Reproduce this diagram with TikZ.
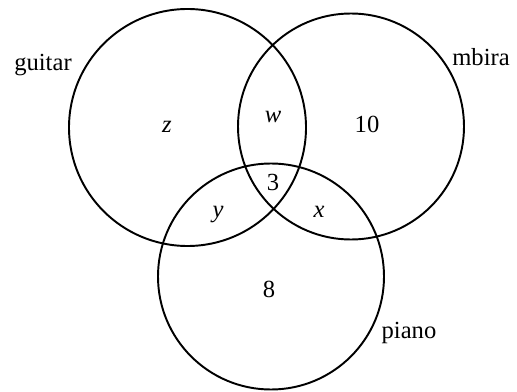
\documentclass[tikz,border=0pt]{standalone}
\usepackage{fontspec}
\setmainfont{Liberation Serif}
\usepackage{tikz}
\usetikzlibrary{positioning}

\begin{document}
\begin{tikzpicture}[lbl/.style={draw=none,fill=none,font=\fontsize{14}{16}\selectfont}]
		\useasboundingbox (0,0) rectangle (10.34,7.82);
		
		\coordinate (gc) at (3.75,5.27);
		\coordinate (mc) at (7.02,5.29);
		\coordinate (pc) at (5.42,2.29);
		\draw[line width=1.1pt] (gc) circle (2.37);
		\draw[line width=1.1pt] (mc) circle (2.26);
		\draw[line width=1.1pt] (pc) circle (2.26);
		
		\node[lbl] (guitar) at (0.86,6.52) {guitar};
		\node[lbl] (mbira) at (9.62,6.68) {mbira};
		\node[lbl] (piano) at (8.18,1.16) {piano};
		
		\node[lbl] (z) at (3.34,5.28) {\textit{z}};
		\node[lbl] (w) at (5.46,5.48) {\textit{w}};
		\node[lbl] (ten) at (7.34,5.34) {10};
		\node[lbl] (three) at (5.46,4.18) {3};
		\node[lbl] (y) at (4.36,3.52) {\textit{y}};
		\node[lbl] (x) at (6.38,3.58) {\textit{x}};
		\node[lbl] (eight) at (5.38,2.04) {8};
	\end{tikzpicture}
\end{document}
